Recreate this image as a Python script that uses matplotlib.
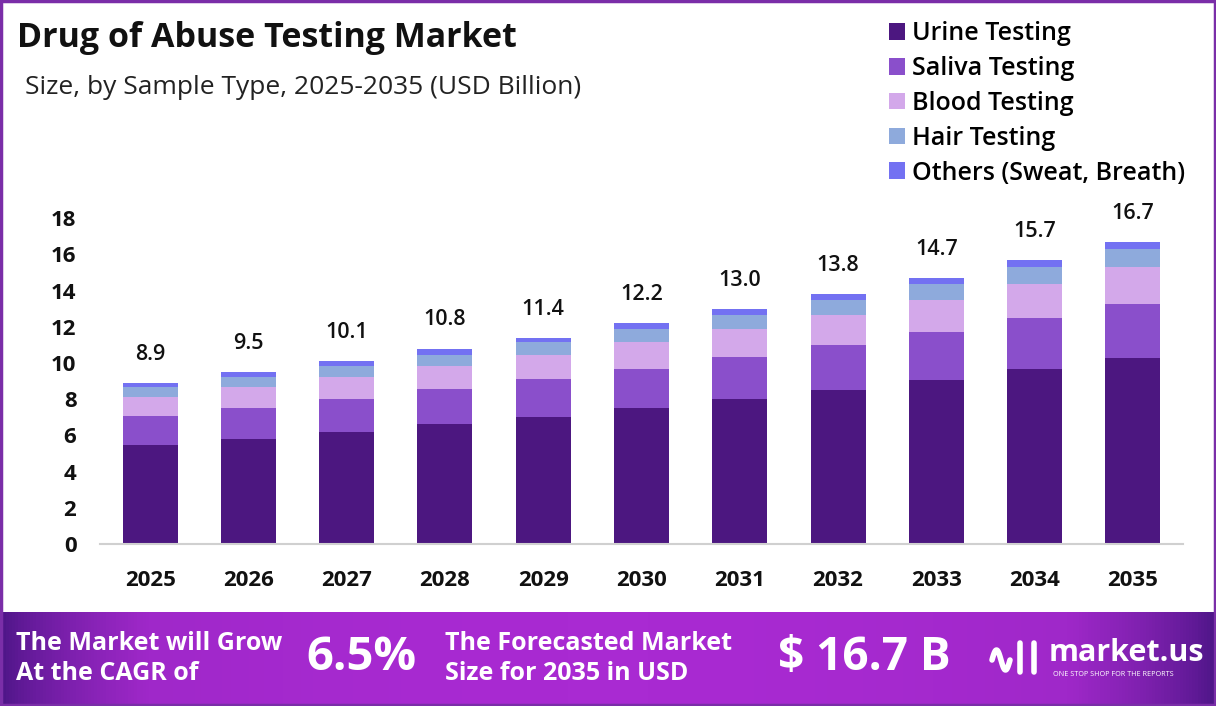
import numpy as np
import matplotlib
matplotlib.use("Agg")
import matplotlib.pyplot as plt
from matplotlib.patches import Rectangle
from matplotlib.lines import Line2D

plt.rcParams['font.family'] = ['Open Sans', 'DejaVu Sans']

years = ['2025', '2026', '2027', '2028', '2029', '2030',
         '2031', '2032', '2033', '2034', '2035']
totals = [8.9, 9.5, 10.1, 10.8, 11.4, 12.2, 13.0, 13.8, 14.7, 15.7, 16.7]
urine = [5.47, 5.80, 6.19, 6.63, 7.02, 7.51, 8.01, 8.51, 9.06, 9.67, 10.28]
saliva = [1.60, 1.71, 1.82, 1.93, 2.10, 2.16, 2.32, 2.49, 2.65, 2.82, 2.98]
blood = [1.07, 1.15, 1.22, 1.29, 1.32, 1.51, 1.55, 1.65, 1.77, 1.87, 2.04]
hair = [0.52, 0.58, 0.60, 0.59, 0.74, 0.70, 0.79, 0.83, 0.90, 0.94, 1.01]
others = [0.24, 0.26, 0.27, 0.36, 0.22, 0.32, 0.33, 0.32, 0.32, 0.40, 0.39]

series = [
    ('Urine Testing', urine, '#4c1780'),
    ('Saliva Testing', saliva, '#8a4fcb'),
    ('Blood Testing', blood, '#d3a8ea'),
    ('Hair Testing', hair, '#8eaadc'),
    ('Others (Sweat, Breath)', others, '#7371f2'),
]

fig = plt.figure(figsize=(12.16, 7.06), dpi=100)

# footer gradient band
bg = fig.add_axes([0, 0, 1, 94 / 706])
grad = np.linspace(0, 1, 400)
grad = np.sin(np.pi * grad) ** 0.7
bg.imshow(grad[np.newaxis, :], aspect='auto', extent=[0, 1, 0, 1],
          cmap=matplotlib.colors.LinearSegmentedColormap.from_list(
              'band', ['#4a1585', '#9f28c9', '#a92ad2']))
bg.set_xlim(0, 1)
bg.set_ylim(0, 1)
bg.axis('off')

# main chart
ax = fig.add_axes([100 / 1216, 162 / 706, 1083 / 1216, 362 / 706])
x = np.arange(len(years))
bottom = np.zeros(len(years))
for name, vals, col in series:
    ax.bar(x, vals, 0.56, bottom=bottom, color=col, label=name)
    bottom += np.array(vals)

for xi, t in zip(x, totals):
    ax.text(xi, t + 1.0, f'{t:.1f}', ha='center', va='bottom',
            fontsize=15.5, fontweight='semibold', color='#111111')

ax.set_xlim(-0.51, 10.51)
ax.set_ylim(0, 20)
ax.set_yticks(range(0, 19, 2))
ax.set_xticks(x)
ax.set_xticklabels(years)
ax.tick_params(axis='both', length=0, labelsize=16, colors='#111111')
ax.tick_params(axis='x', pad=19)
ax.tick_params(axis='y', pad=17)
for lab in ax.get_xticklabels() + ax.get_yticklabels():
    lab.set_fontweight('bold')
for s in ['top', 'right', 'left']:
    ax.spines[s].set_visible(False)
ax.spines['bottom'].set_color('#d0d0d0')
ax.spines['bottom'].set_linewidth(1.5)

# titles
fig.text(17 / 1216, 1 - 38 / 706, 'Drug of Abuse Testing Market',
         fontsize=24.5, fontweight='bold', va='center', color='#111111')
fig.text(25 / 1216, 1 - 88 / 706, 'Size, by Sample Type, 2025-2035 (USD Billion)',
         fontsize=19, va='center', color='#222222')

# legend
handles, labels = ax.get_legend_handles_labels()
fig.legend(handles, labels, loc='upper left', bbox_to_anchor=(866 / 1216, 1 + 1 / 706),
           frameon=False, handlelength=0.64, handleheight=0.64,
           handletextpad=0.3, labelspacing=0.39,
           prop={'weight': 'semibold', 'size': 18})

# footer texts
fig.text(16 / 1216, 1 - 643 / 706, 'The Market will Grow', color='white',
         fontsize=18, fontweight='bold', va='center')
fig.text(16 / 1216, 1 - 673 / 706, 'At the CAGR of', color='white',
         fontsize=18, fontweight='bold', va='center')
fig.text(306 / 1216, 1 - 658 / 706, '6.5%', color='white',
         fontsize=34, fontweight='bold', va='center')
fig.text(445 / 1216, 1 - 643 / 706, 'The Forecasted Market', color='white',
         fontsize=18, fontweight='bold', va='center')
fig.text(445 / 1216, 1 - 673 / 706, 'Size for 2035 in USD', color='white',
         fontsize=18, fontweight='bold', va='center')
fig.text(778 / 1216, 1 - 658 / 706, '$ 16.7 B', color='white',
         fontsize=33, fontweight='bold', va='center')
fig.text(1049 / 1216, 1 - 653 / 706, 'market.us', color='white',
         fontsize=22, fontweight='bold', va='center')
fig.text(1053 / 1216, 1 - 674 / 706, 'ONE STOP SHOP FOR THE REPORTS', color='white',
         fontsize=5.2, va='center')

# logo mark: a little wave with two bars
t = np.linspace(0, 1, 40)
lx = (992 + 18 * t) / 1216
ly = 1 - (660 - 10 * np.sin(np.pi * 2 * t)) / 706
fig.lines.append(Line2D(lx, ly, transform=fig.transFigure, color='white',
                        lw=4, solid_capstyle='round'))
for bx in (1020, 1034):
    fig.lines.append(Line2D([bx / 1216, bx / 1216], [1 - 643 / 706, 1 - 672 / 706],
                            transform=fig.transFigure, color='white', lw=4,
                            solid_capstyle='round'))

# border
fig.patches.append(Rectangle((0.001, 0.001), 0.998, 0.998, transform=fig.transFigure,
                             fill=False, edgecolor='#7a2ea8', linewidth=2.5))

fig.savefig('out.png', dpi=100)
